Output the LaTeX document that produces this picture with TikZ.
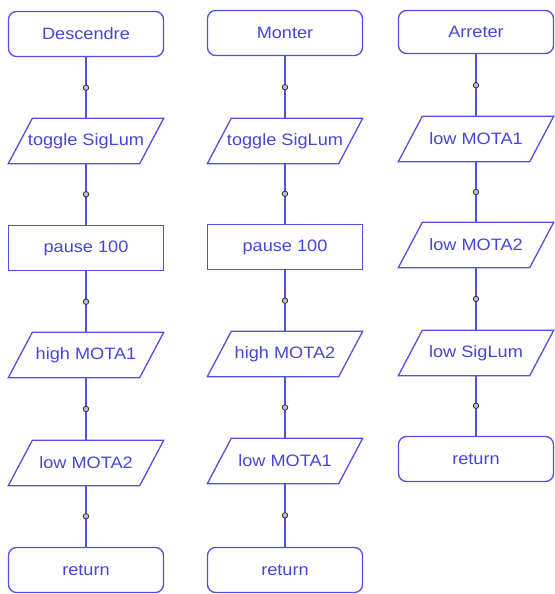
\documentclass[tikz,border=0pt]{standalone}
\usepackage{fontspec}
\setmainfont{Liberation Sans}[FakeStretch=1.1]
\definecolor{fc}{RGB}{80,80,225}
\definecolor{tc}{RGB}{70,70,215}
\tikzset{
  base/.style={minimum width=155pt, minimum height=45pt, inner sep=0pt, text=tc, font=\fontsize{16.5}{18}\selectfont},
  term/.style={base, draw=fc, line width=1.3pt, rounded corners=8pt},
  proc/.style={base, draw=fc, line width=1.3pt},
  io/.style={base},
  ln/.style={draw=fc, line width=1.3pt},
  dot/.style={circle, inner sep=0pt, minimum size=5.5pt, fill=gray!50, draw=black!80, line width=0.8pt}
}
\newcommand{\ionode}[4]{%
  \node[io] (#1) at (#2,#3) {#4};
  \draw[ln] ([xshift=24pt]#1.north west) -- (#1.north east) -- ([xshift=-24pt]#1.south east) -- (#1.south west) -- cycle;}
\begin{document}
\begin{tikzpicture}[x=1pt,y=-1pt]
\useasboundingbox (0,0) rectangle (554,594);
% column 1
\node[term] (d0) at (86,34) {Descendre};
\ionode{d1}{86}{141}{toggle SigLum}
\node[proc] (d2) at (86,248) {pause 100};
\ionode{d3}{86}{355}{high MOTA1}
\ionode{d4}{86}{463}{low MOTA2}
\node[term] (d5) at (86,570) {return};
% column 2
\node[term] (m0) at (285,33) {Monter};
\ionode{m1}{285}{141}{toggle SigLum}
\node[proc] (m2) at (285,247) {pause 100};
\ionode{m3}{285}{354}{high MOTA2}
\ionode{m4}{285}{461}{low MOTA1}
\node[term] (m5) at (285,570) {return};
% column 3
\node[term, minimum height=43pt] (a0) at (476,32) {Arreter};
\ionode{a1}{476}{139}{low MOTA1}
\ionode{a2}{476}{245}{low MOTA2}
\ionode{a3}{476}{353}{low SigLum}
\node[term] (a4) at (476,459) {return};
% connectors
\foreach \p/\q in {d0/d1,d1/d2,d2/d3,d3/d4,d4/d5,m0/m1,m1/m2,m2/m3,m3/m4,m4/m5,a0/a1,a1/a2,a2/a3,a3/a4}
  \draw[ln] (\p) -- node[dot]{} (\q);
\end{tikzpicture}
\end{document}
